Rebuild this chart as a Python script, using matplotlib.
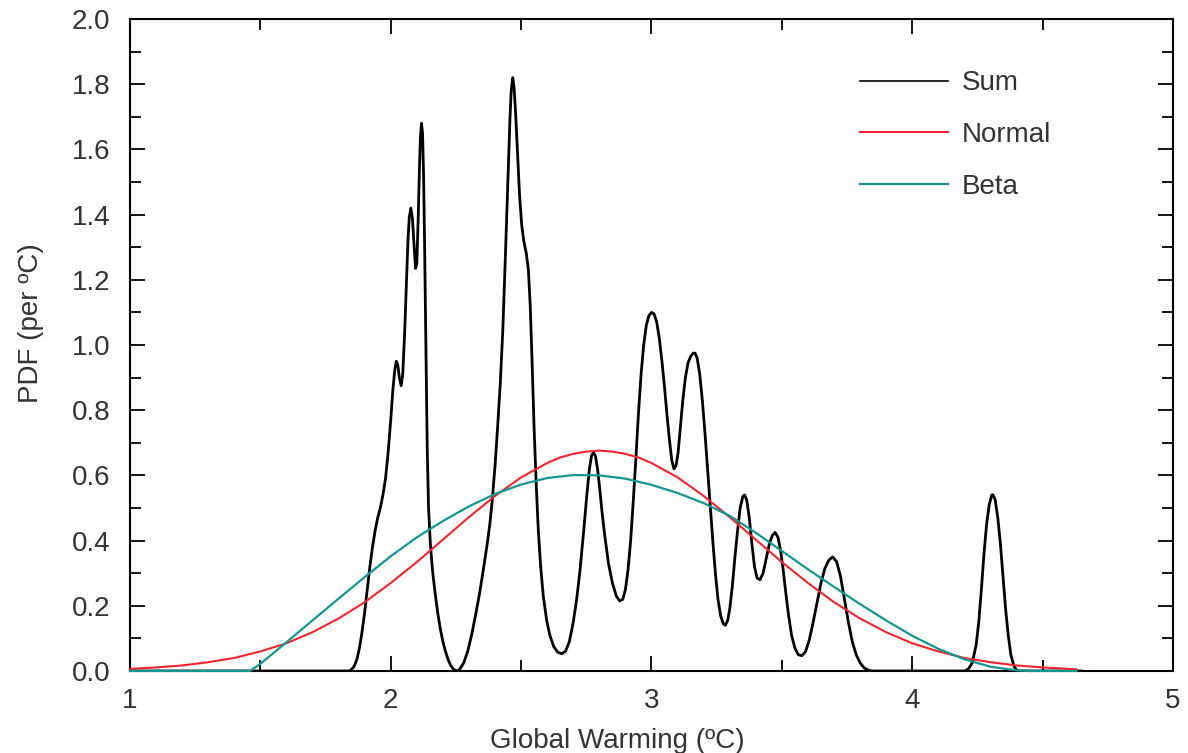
import numpy as np
from matplotlib import pyplot as plt
from matplotlib.ticker import MultipleLocator

plt.rcParams['font.family'] = ['Liberation Sans', 'DejaVu Sans']

# Sum of model PDFs
sum_x = [1.00, 1.80, 1.84, 1.85, 1.86, 1.87, 1.88, 1.89, 1.90, 1.91, 1.92, 1.93, 1.94, 1.95, 1.96,
         1.97, 1.98, 1.99, 2.00, 2.008, 2.015, 2.021, 2.027, 2.033, 2.04, 2.046, 2.053, 2.06, 2.066,
         2.071, 2.077, 2.083, 2.089, 2.095, 2.100, 2.105, 2.110, 2.114, 2.118, 2.122, 2.126, 2.13,
         2.135, 2.14, 2.145, 2.152, 2.16, 2.17, 2.18, 2.19, 2.20, 2.21, 2.22, 2.23, 2.24, 2.253,
         2.265, 2.28, 2.295, 2.31, 2.325, 2.34, 2.355, 2.37, 2.38, 2.39, 2.40, 2.41, 2.42, 2.43,
         2.44, 2.45, 2.457, 2.462, 2.468, 2.473, 2.479, 2.486, 2.494, 2.502, 2.51, 2.52, 2.528,
         2.535, 2.542, 2.55, 2.558, 2.566, 2.575, 2.585, 2.598, 2.61, 2.625, 2.64, 2.655, 2.67,
         2.685, 2.70, 2.713, 2.726, 2.74, 2.752, 2.762, 2.77, 2.777, 2.785, 2.793, 2.80, 2.81,
         2.82, 2.835, 2.85, 2.865, 2.878, 2.89, 2.90, 2.91, 2.92, 2.93, 2.94, 2.95, 2.96, 2.97,
         2.98, 2.99, 3.00, 3.01, 3.02, 3.03, 3.04, 3.05, 3.06, 3.07, 3.078, 3.086, 3.094, 3.102,
         3.11, 3.12, 3.13, 3.14, 3.15, 3.16, 3.167, 3.175, 3.185, 3.195, 3.205, 3.215, 3.225,
         3.235, 3.245, 3.255, 3.265, 3.275, 3.283, 3.292, 3.30, 3.31, 3.32, 3.33, 3.34, 3.35,
         3.357, 3.365, 3.375, 3.385, 3.395, 3.405, 3.416, 3.428, 3.44, 3.452, 3.463, 3.474, 3.485,
         3.495, 3.505, 3.515, 3.525, 3.537, 3.55, 3.563, 3.576, 3.59, 3.605, 3.62, 3.635, 3.65,
         3.665, 3.68, 3.695, 3.71, 3.725, 3.74, 3.755, 3.77, 3.785, 3.80, 3.815, 3.83, 3.845,
         4.20, 4.215, 4.23, 4.245, 4.255, 4.265, 4.275, 4.285, 4.295, 4.305, 4.31, 4.318, 4.328,
         4.338, 4.348, 4.358, 4.368, 4.378, 4.39, 4.40, 4.41, 4.65]
sum_y = [0.0, 0.0, 0.0, 0.005, 0.015, 0.035, 0.07, 0.12, 0.18, 0.25, 0.32, 0.38, 0.43, 0.47, 0.50,
         0.54, 0.59, 0.67, 0.77, 0.86, 0.92, 0.95, 0.94, 0.90, 0.875, 0.91, 1.03, 1.19, 1.32,
         1.39, 1.42, 1.39, 1.31, 1.235, 1.25, 1.38, 1.54, 1.64, 1.68, 1.65, 1.52, 1.30,
         1.00, 0.68, 0.50, 0.39, 0.31, 0.24, 0.18, 0.13, 0.09, 0.06, 0.035, 0.017, 0.006, 0.0,
         0.006, 0.025, 0.06, 0.11, 0.17, 0.235, 0.31, 0.39, 0.45, 0.53, 0.63, 0.75, 0.88, 1.05,
         1.28, 1.52, 1.69, 1.78, 1.82, 1.79, 1.71, 1.59, 1.46, 1.37, 1.32, 1.28, 1.23,
         1.12, 0.95, 0.74, 0.57, 0.43, 0.32, 0.23, 0.155, 0.11, 0.075, 0.058, 0.053, 0.06,
         0.09, 0.15, 0.22, 0.31, 0.43, 0.54, 0.62, 0.66, 0.67, 0.66, 0.62, 0.57, 0.49,
         0.42, 0.33, 0.27, 0.23, 0.215, 0.22, 0.25, 0.31, 0.40, 0.52, 0.65, 0.79, 0.91, 1.00,
         1.06, 1.09, 1.10, 1.095, 1.07, 1.02, 0.95, 0.87, 0.78, 0.70, 0.645, 0.62, 0.63, 0.67,
         0.74, 0.83, 0.90, 0.945, 0.965, 0.975, 0.975, 0.96, 0.91, 0.83, 0.73, 0.62, 0.51,
         0.40, 0.30, 0.22, 0.17, 0.145, 0.14, 0.155, 0.19, 0.26, 0.35, 0.43, 0.50, 0.535,
         0.54, 0.525, 0.47, 0.39, 0.32, 0.285, 0.28, 0.30, 0.345, 0.39, 0.415, 0.425, 0.41,
         0.37, 0.31, 0.24, 0.175, 0.11, 0.07, 0.05, 0.047, 0.058, 0.095, 0.15, 0.21, 0.27,
         0.315, 0.34, 0.35, 0.335, 0.29, 0.22, 0.15, 0.09, 0.05, 0.025, 0.01, 0.003, 0.0,
         0.0, 0.006, 0.025, 0.08, 0.15, 0.25, 0.36, 0.45, 0.51, 0.54, 0.54, 0.525, 0.47,
         0.39, 0.29, 0.19, 0.11, 0.05, 0.015, 0.003, 0.0, 0.0]

# Normal fit
norm_x = [1.0, 1.1, 1.2, 1.3, 1.4, 1.5, 1.6, 1.7, 1.8, 1.9, 2.0, 2.1, 2.2, 2.3, 2.4, 2.5, 2.6, 2.65,
          2.7, 2.75, 2.8, 2.85, 2.9, 2.95, 3.0, 3.1, 3.2, 3.3, 3.4, 3.5, 3.6, 3.7, 3.8, 3.9, 4.0,
          4.1, 4.2, 4.3, 4.4, 4.5, 4.6, 4.63]
norm_y = [0.0065, 0.011, 0.017, 0.027, 0.040, 0.060, 0.085, 0.119, 0.161, 0.211, 0.270, 0.334,
          0.403, 0.472, 0.537, 0.594, 0.638, 0.655, 0.666, 0.673, 0.676, 0.673, 0.666, 0.655,
          0.638, 0.594, 0.537, 0.472, 0.403, 0.334, 0.270, 0.211, 0.161, 0.119, 0.085, 0.060,
          0.040, 0.027, 0.017, 0.011, 0.0065, 0.005]

# Beta fit
beta_x = [1.0, 1.46, 1.5, 1.6, 1.7, 1.8, 1.9, 2.0, 2.1, 2.2, 2.3, 2.4, 2.5, 2.6, 2.7, 2.8, 2.9, 3.0,
          3.1, 3.2, 3.3, 3.4, 3.5, 3.6, 3.7, 3.8, 3.9, 4.0, 4.1, 4.2, 4.3, 4.4, 4.45, 4.63]
beta_y = [0.0, 0.0, 0.022, 0.088, 0.155, 0.222, 0.288, 0.352, 0.41, 0.46, 0.505, 0.543, 0.572,
          0.592, 0.601, 0.600, 0.590, 0.571, 0.546, 0.515, 0.476, 0.424, 0.368, 0.312, 0.258,
          0.205, 0.155, 0.108, 0.068, 0.036, 0.013, 0.002, 0.0, 0.0]

fig = plt.figure(figsize=(11.88, 7.53), dpi=100)
ax = fig.add_axes([0.1094, 0.1089, 0.8780, 0.8659])

ax.plot(sum_x, sum_y, color='black', lw=2.0, label='Sum', zorder=3, solid_joinstyle='round')
ax.plot(norm_x, norm_y, color='#f2242e', lw=1.5, label='Normal', zorder=4, clip_on=False,
        solid_joinstyle='round')
ax.plot(beta_x, beta_y, color='#12968f', lw=1.6, label='Beta', zorder=5, clip_on=False,
        solid_joinstyle='round')

ax.set_xlim(1, 5)
ax.set_ylim(0, 2.0)
ax.xaxis.set_major_locator(MultipleLocator(1))
ax.xaxis.set_minor_locator(MultipleLocator(0.5))
ax.yaxis.set_major_locator(MultipleLocator(0.2))
ax.yaxis.set_minor_locator(MultipleLocator(0.1))
ax.yaxis.set_major_formatter(plt.FormatStrFormatter('%.1f'))

ax.tick_params(which='both', direction='in', top=True, right=True, width=1.3,
               labelsize=20, labelcolor='#333333')
ax.tick_params(axis='y', pad=14)
ax.tick_params(axis='x', pad=12)
ax.tick_params(which='major', length=11)
ax.tick_params(which='minor', length=8)
for s in ax.spines.values():
    s.set_linewidth(1.5)

ax.set_xlabel('Global Warming (ºC)', fontsize=20, color='#333333')
ax.set_ylabel('PDF (per ºC)', fontsize=20, color='#333333')
ax.xaxis.set_label_coords(0.467, -0.088)
ax.yaxis.set_label_coords(-0.082, 0.534)

leg = ax.legend(loc='upper left', bbox_to_anchor=(0.70, 0.921), frameon=False, fontsize=20,
                handlelength=3.17, handletextpad=0.5, labelspacing=0.92, borderpad=0,
                borderaxespad=0)
for t in leg.get_texts():
    t.set_color('#333333')
leg.get_lines()[0].set_linewidth(1.2)

plt.savefig('out.png', dpi=100)
